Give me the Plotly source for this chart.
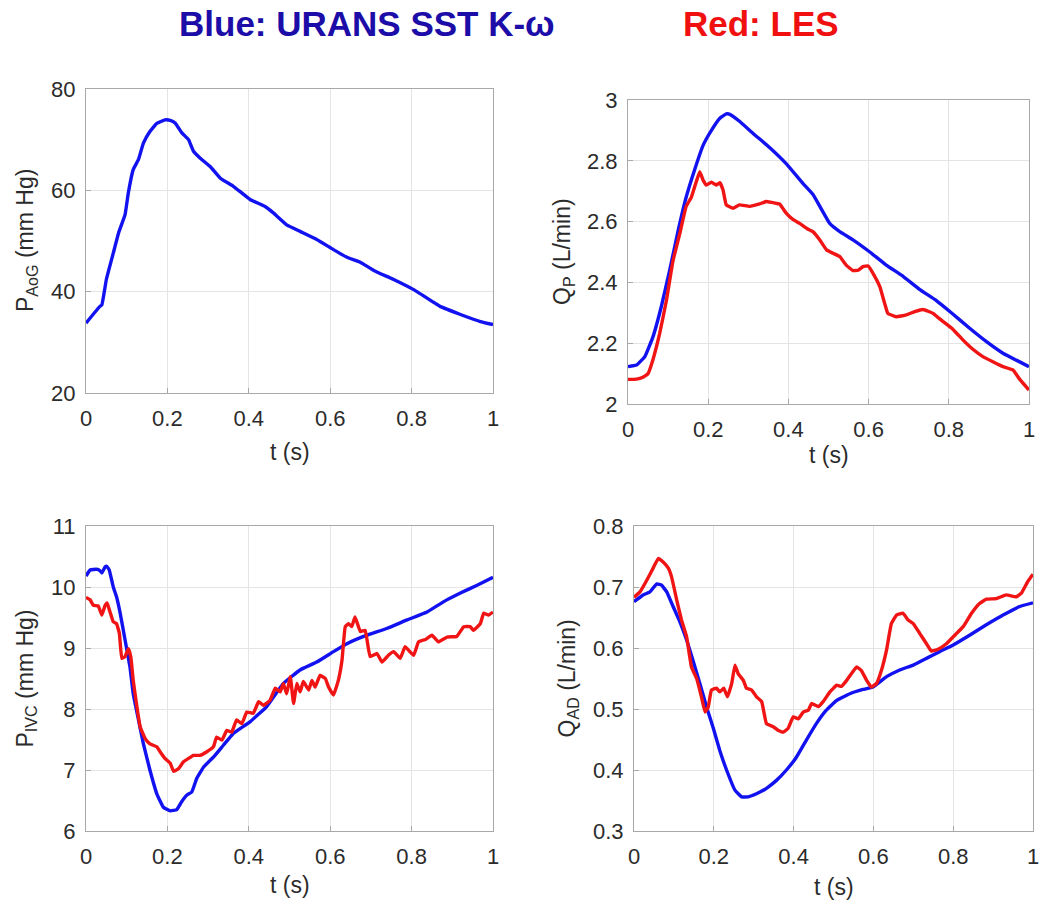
import plotly.graph_objects as go

# ---------------- data ----------------
t_aog = [0, 0.034, 0.039, 0.05, 0.067, 0.08, 0.096, 0.104, 0.116, 0.129, 0.141, 0.157, 0.174,
         0.194, 0.207, 0.219, 0.235, 0.252, 0.264, 0.28, 0.305, 0.33, 0.362, 0.403, 0.44, 0.461,
         0.493, 0.526, 0.567, 0.608, 0.641, 0.674, 0.707, 0.756, 0.805, 0.854, 0.87, 0.92, 0.969, 1.0]
p_aog_blue = [33.8, 37.1, 37.4, 42.4, 47.6, 51.6, 55.2, 59.5, 64.1, 66.1, 69.3, 71.6, 73.2,
              73.9, 73.8, 73.3, 71.4, 70.0, 67.7, 66.4, 64.7, 62.4, 60.8, 58.2, 56.8, 55.5,
              53.2, 51.9, 50.3, 48.3, 46.8, 45.8, 44.2, 42.4, 40.4, 37.9, 37.1, 35.5, 34.1, 33.5]

t_qp_blue = [0, 0.021, 0.042, 0.062, 0.083, 0.104, 0.125, 0.145, 0.166, 0.187, 0.208, 0.229, 0.245,
             0.254, 0.278, 0.312, 0.353, 0.395, 0.436, 0.461, 0.503, 0.528, 0.561, 0.603, 0.644,
             0.686, 0.727, 0.769, 0.81, 0.852, 0.894, 0.935, 1.0]
qp_blue = [2.123, 2.128, 2.156, 2.22, 2.32, 2.44, 2.57, 2.68, 2.77, 2.85, 2.90, 2.94, 2.954,
           2.953, 2.93, 2.89, 2.844, 2.79, 2.726, 2.69, 2.594, 2.567, 2.54, 2.50, 2.457,
           2.42, 2.377, 2.34, 2.296, 2.249, 2.205, 2.167, 2.123]
t_qp_red = [0, 0.021, 0.037, 0.05, 0.062, 0.079, 0.096, 0.112, 0.129, 0.145, 0.158, 0.17, 0.179,
            0.187, 0.195, 0.208, 0.22, 0.229, 0.237, 0.245, 0.262, 0.278, 0.303, 0.328, 0.345,
            0.37, 0.378, 0.395, 0.411, 0.428, 0.445, 0.461, 0.478, 0.495, 0.511, 0.528, 0.544,
            0.561, 0.574, 0.586, 0.599, 0.611, 0.628, 0.64, 0.648, 0.669, 0.694, 0.715, 0.736,
            0.761, 0.786, 0.81, 0.835, 0.86, 0.885, 0.91, 0.935, 0.96, 0.977, 1.0]
qp_red = [2.081, 2.082, 2.088, 2.10, 2.145, 2.232, 2.342, 2.47, 2.56, 2.65, 2.68, 2.73, 2.764,
          2.737, 2.72, 2.73, 2.72, 2.728, 2.704, 2.655, 2.644, 2.655, 2.65, 2.658, 2.666,
          2.66, 2.658, 2.627, 2.607, 2.594, 2.578, 2.567, 2.54, 2.507, 2.496, 2.485, 2.457,
          2.439, 2.44, 2.452, 2.454, 2.43, 2.386, 2.331, 2.298, 2.287, 2.293, 2.304, 2.311,
          2.298, 2.271, 2.246, 2.211, 2.18, 2.156, 2.139, 2.123, 2.112, 2.081, 2.046]

t_ivc_blue = [0, 0.01, 0.026, 0.034, 0.039, 0.047, 0.051, 0.057, 0.067, 0.075, 0.084, 0.096, 0.108,
              0.116, 0.129, 0.141, 0.157, 0.174, 0.19, 0.207, 0.223, 0.235, 0.248, 0.26, 0.272,
              0.289, 0.313, 0.338, 0.362, 0.403, 0.444, 0.485, 0.526, 0.567, 0.608, 0.641, 0.69,
              0.739, 0.789, 0.838, 0.879, 0.92, 0.961, 1.0]
p_ivc_blue = [10.18, 10.28, 10.29, 10.27, 10.23, 10.33, 10.34, 10.28, 10.0, 9.84, 9.57, 9.13, 8.69,
              8.25, 7.82, 7.43, 7.0, 6.61, 6.39, 6.33, 6.35, 6.48, 6.59, 6.64, 6.86,
              7.05, 7.21, 7.41, 7.60, 7.79, 8.04, 8.42, 8.64, 8.77, 8.94, 9.07, 9.21,
              9.32, 9.46, 9.59, 9.76, 9.90, 10.03, 10.16]
t_ivc_red = [0, 0.01, 0.018, 0.03, 0.039, 0.047, 0.052, 0.059, 0.067, 0.075, 0.082, 0.088, 0.096,
             0.104, 0.11, 0.116, 0.125, 0.133, 0.145, 0.157, 0.174, 0.182, 0.194, 0.207, 0.215,
             0.227, 0.239, 0.252, 0.264, 0.28, 0.297, 0.313, 0.321, 0.334, 0.346, 0.358, 0.37,
             0.383, 0.395, 0.411, 0.424, 0.436, 0.452, 0.465, 0.477, 0.485, 0.493, 0.502, 0.51,
             0.518, 0.526, 0.534, 0.547, 0.555, 0.563, 0.575, 0.588, 0.596, 0.608, 0.62, 0.629,
             0.637, 0.645, 0.653, 0.661, 0.674, 0.686, 0.698, 0.715, 0.727, 0.743, 0.756, 0.772,
             0.784, 0.805, 0.817, 0.834, 0.85, 0.866, 0.887, 0.911, 0.928, 0.944, 0.952, 0.969,
             0.977, 0.989, 1.0]
p_ivc_red = [9.83, 9.79, 9.70, 9.69, 9.54, 9.70, 9.74, 9.59, 9.43, 9.40, 9.24, 8.83, 8.86,
             8.99, 8.86, 8.47, 8.04, 7.71, 7.52, 7.43, 7.38, 7.30, 7.19, 7.11, 6.98,
             7.02, 7.13, 7.19, 7.24, 7.24, 7.30, 7.38, 7.54, 7.49, 7.65, 7.62, 7.82,
             7.76, 7.95, 7.93, 8.12, 8.06, 8.14, 8.34, 8.28, 8.42, 8.25, 8.53, 8.09,
             8.42, 8.28, 8.45, 8.31, 8.47, 8.36, 8.55, 8.50, 8.36, 8.23, 8.47, 8.80,
             9.35, 9.40, 9.35, 9.51, 9.27, 9.29, 8.86, 8.91, 8.77, 8.88, 8.94, 8.83,
             9.02, 8.88, 9.10, 9.14, 9.21, 9.10, 9.18, 9.19, 9.35, 9.35, 9.29, 9.40,
             9.57, 9.54, 9.59]

t_qad_blue = [0, 0.023, 0.04, 0.057, 0.069, 0.082, 0.098, 0.115, 0.132, 0.149, 0.165, 0.182, 0.199,
              0.215, 0.232, 0.253, 0.27, 0.286, 0.307, 0.332, 0.357, 0.382, 0.407, 0.432, 0.457,
              0.482, 0.508, 0.541, 0.574, 0.599, 0.633, 0.666, 0.7, 0.733, 0.766, 0.8, 0.841,
              0.883, 0.925, 0.967, 1.0]
qad_blue = [0.676, 0.687, 0.692, 0.705, 0.703, 0.692, 0.668, 0.643, 0.613, 0.577, 0.542, 0.503, 0.468,
            0.432, 0.40, 0.367, 0.356, 0.356, 0.361, 0.37, 0.383, 0.40, 0.421, 0.449, 0.476,
            0.498, 0.514, 0.525, 0.532, 0.536, 0.553, 0.564, 0.572, 0.583, 0.594, 0.605, 0.621,
            0.638, 0.654, 0.668, 0.674]
t_qad_red = [0, 0.015, 0.032, 0.048, 0.061, 0.073, 0.086, 0.094, 0.107, 0.119, 0.132, 0.144, 0.157,
             0.169, 0.178, 0.186, 0.194, 0.207, 0.215, 0.225, 0.234, 0.245, 0.253, 0.261, 0.274,
             0.282, 0.295, 0.307, 0.32, 0.332, 0.349, 0.361, 0.374, 0.386, 0.399, 0.412, 0.424,
             0.437, 0.445, 0.462, 0.474, 0.491, 0.508, 0.52, 0.533, 0.545, 0.558, 0.57, 0.583,
             0.595, 0.608, 0.62, 0.633, 0.645, 0.658, 0.674, 0.687, 0.7, 0.716, 0.733, 0.745,
             0.762, 0.783, 0.804, 0.825, 0.846, 0.866, 0.883, 0.908, 0.933, 0.958, 0.971, 0.987, 1.0]
qad_red = [0.683, 0.692, 0.711, 0.731, 0.747, 0.741, 0.731, 0.717, 0.679, 0.646, 0.618, 0.569, 0.55,
           0.52, 0.495, 0.503, 0.531, 0.534, 0.528, 0.534, 0.52, 0.542, 0.572, 0.558, 0.547,
           0.534, 0.531, 0.52, 0.512, 0.476, 0.471, 0.465, 0.462, 0.468, 0.487, 0.484, 0.495,
           0.498, 0.509, 0.504, 0.512, 0.528, 0.539, 0.537, 0.547, 0.558, 0.569, 0.563, 0.547,
           0.536, 0.542, 0.563, 0.597, 0.64, 0.654, 0.657, 0.646, 0.64, 0.624, 0.607, 0.595,
           0.598, 0.607, 0.621, 0.635, 0.657, 0.673, 0.68, 0.681, 0.687, 0.684, 0.69, 0.709, 0.721]

x_ticks = [0, 0.2, 0.4, 0.6, 0.8, 1]
y_ticks_aog = [20, 40, 60, 80]
y_ticks_qp = [2, 2.2, 2.4, 2.6, 2.8, 3]
y_ticks_ivc = [6, 7, 8, 9, 10, 11]
y_ticks_qad = [0.3, 0.4, 0.5, 0.6, 0.7, 0.8]

# ---------------- style ----------------
W, H = 1042, 905
BLUE = "#1212f0"
RED = "#f01414"
FONT = "Liberation Sans, Arial, sans-serif"
TICKCOL = "#2b2b2b"


def px_x(p):
    return p / W


def px_y(p):
    return 1 - p / H


# plot area boxes in pixels: (left, right, top, bottom)
boxes = {
    1: (86, 493, 89, 393),
    2: (628, 1029, 100, 404),
    3: (86, 493, 526, 831),
    4: (634, 1033, 526, 831),
}

fig = go.Figure()

series = [
    (1, t_aog, p_aog_blue, BLUE),
    (2, t_qp_blue, qp_blue, BLUE),
    (2, t_qp_red, qp_red, RED),
    (3, t_ivc_blue, p_ivc_blue, BLUE),
    (3, t_ivc_red, p_ivc_red, RED),
    (4, t_qad_blue, qad_blue, BLUE),
    (4, t_qad_red, qad_red, RED),
]
for k, xs, ys, col in series:
    fig.add_trace(go.Scatter(x=xs, y=ys, mode="lines",
                             line=dict(color=col, width=3.4, shape="spline", smoothing=0.3),
                             xaxis="x" if k == 1 else f"x{k}",
                             yaxis="y" if k == 1 else f"y{k}",
                             showlegend=False, hoverinfo="skip"))

yinfo = {
    1: ([20, 80], y_ticks_aog),
    2: ([2, 3], y_ticks_qp),
    3: ([6, 11], y_ticks_ivc),
    4: ([0.3, 0.8], y_ticks_qad),
}
axis_common = dict(showline=True, linecolor="#a8a8a8", linewidth=1, mirror=True,
                   showgrid=True, gridcolor="#e4e4e4", gridwidth=1,
                   ticks="inside", ticklen=5, tickcolor="#a8a8a8",
                   tickfont=dict(family=FONT, size=22, color=TICKCOL),
                   zeroline=False, fixedrange=True, automargin=False)
layout = {}
for k, (l, r, t, b) in boxes.items():
    xa = "xaxis" if k == 1 else f"xaxis{k}"
    ya = "yaxis" if k == 1 else f"yaxis{k}"
    xn = "x" if k == 1 else f"x{k}"
    yn = "y" if k == 1 else f"y{k}"
    layout[xa] = dict(domain=[px_x(l), px_x(r)], range=[0, 1], tickvals=x_ticks,
                      anchor=yn, ticklabelstandoff=6, **axis_common)
    rng, tv = yinfo[k]
    layout[ya] = dict(domain=[px_y(b), px_y(t)], range=rng, tickvals=tv,
                      anchor=xn, ticklabelstandoff=5, **axis_common)

fig.update_layout(**layout)

ann = []
# x-axis titles (offset of title box below the bottom axis, px)
xoff = {1: 44, 2: 36, 3: 39, 4: 41}
for k, (l, r, t, b) in boxes.items():
    ann.append(dict(text="t (s)", x=px_x((l + r) / 2), y=px_y(b + xoff[k]), xref="paper", yref="paper",
                    showarrow=False, xanchor="center", yanchor="top",
                    font=dict(family=FONT, size=23, color=TICKCOL)))
ytitles = {
    1: ("P<sub>AoG</sub> (mm Hg)", 26),
    2: ("Q<sub>P</sub> (L/min)", 563),
    3: ("P<sub>IVC</sub> (mm Hg)", 26),
    4: ("Q<sub>AD</sub> (L/min)", 568),
}
for k, (txt, xc) in ytitles.items():
    l, r, t, b = boxes[k]
    ann.append(dict(text=txt, x=px_x(xc), y=px_y((t + b) / 2), xref="paper", yref="paper",
                    showarrow=False, textangle=-90, xanchor="center", yanchor="middle",
                    font=dict(family=FONT, size=23, color=TICKCOL)))
# header
ann.append(dict(text="<b>Blue: URANS SST K-ω</b>", x=px_x(367), y=px_y(23), xref="paper", yref="paper",
                showarrow=False, xanchor="center", yanchor="middle",
                font=dict(family=FONT, size=35, color="#1c0ca8")))
ann.append(dict(text="<b>Red: LES</b>", x=px_x(761), y=px_y(23), xref="paper", yref="paper",
                showarrow=False, xanchor="center", yanchor="middle",
                font=dict(family=FONT, size=35, color="#f01010")))

fig.update_layout(width=W, height=H, margin=dict(l=0, r=0, t=0, b=0, autoexpand=False),
                  paper_bgcolor="white", plot_bgcolor="white", annotations=ann,
                  showlegend=False)

fig.write_html("out.html", config={"displayModeBar": False})
